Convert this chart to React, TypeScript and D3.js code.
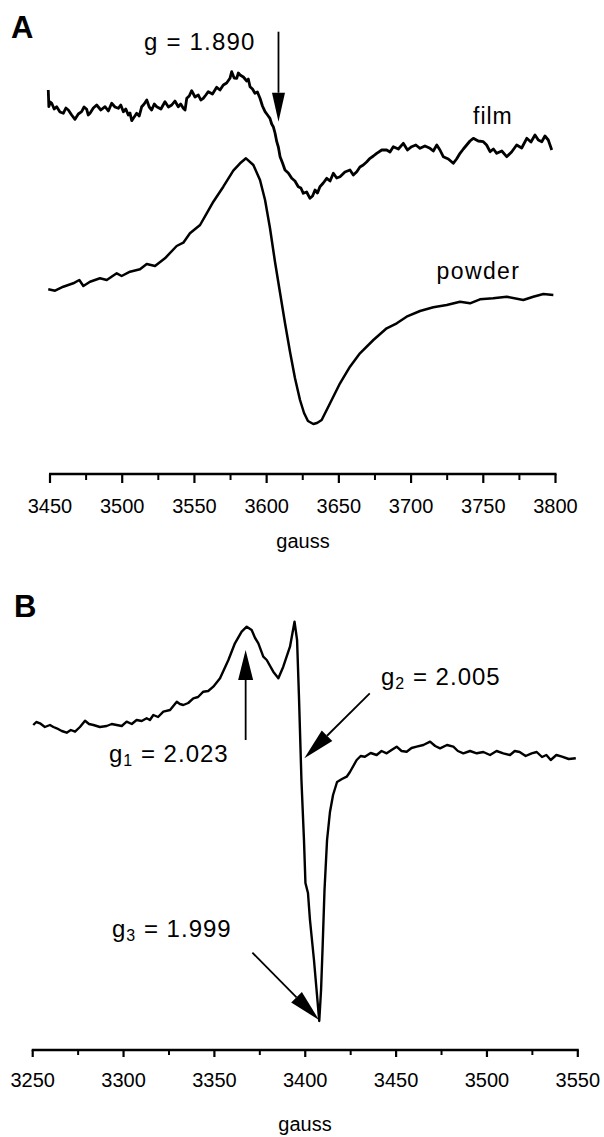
import React from "react";
import * as d3 from "d3";

// ---------- Panel A data (gauss, arbitrary signal units) ----------
const filmGauss = [3448.8, 3449.2, 3450.2, 3451.2, 3452.9, 3454.6, 3456.9, 3459.2, 3461.0, 3462.7, 3465.0, 3467.3, 3469.6, 3471.9, 3473.6, 3475.4, 3476.5, 3477.7, 3480.0, 3482.3, 3485.2, 3488.1, 3490.4, 3492.7, 3495.0, 3497.3, 3499.0, 3500.8, 3502.5, 3504.2, 3505.4, 3506.6, 3508.3, 3510.0, 3511.8, 3513.5, 3515.2, 3517.0, 3518.7, 3520.4, 3522.2, 3523.9, 3526.8, 3529.6, 3532.0, 3534.3, 3536.5, 3538.8, 3540.5, 3542.3, 3543.5, 3544.7, 3546.4, 3548.1, 3550.4, 3552.7, 3554.4, 3556.1, 3557.9, 3559.6, 3562.5, 3565.4, 3567.7, 3570.0, 3572.3, 3574.6, 3575.8, 3577.5, 3579.3, 3580.4, 3581.6, 3583.9, 3586.2, 3587.3, 3588.5, 3590.2, 3591.9, 3593.6, 3595.4, 3597.1, 3598.9, 3600.6, 3602.3, 3603.5, 3604.6, 3605.8, 3607.0, 3608.1, 3609.3, 3611.0, 3612.7, 3615.0, 3617.4, 3619.6, 3621.9, 3623.7, 3625.4, 3627.7, 3630.0, 3631.8, 3633.5, 3635.2, 3636.9, 3639.2, 3641.6, 3643.9, 3646.2, 3648.5, 3650.8, 3654.2, 3657.7, 3660.0, 3662.4, 3664.6, 3666.9, 3669.2, 3671.6, 3673.9, 3676.2, 3679.7, 3683.1, 3685.4, 3687.7, 3691.2, 3694.6, 3697.5, 3700.4, 3703.3, 3706.2, 3709.6, 3713.1, 3715.4, 3717.8, 3720.0, 3722.3, 3725.8, 3729.2, 3731.5, 3733.9, 3736.2, 3738.5, 3740.8, 3743.1, 3746.5, 3750.0, 3752.3, 3754.7, 3757.0, 3759.3, 3762.8, 3766.2, 3769.6, 3773.1, 3776.6, 3780.1, 3783.0, 3785.8, 3788.1, 3790.5, 3792.7, 3795.0, 3796.2, 3797.4];
const filmSignal = [210, 193.3, 198, 196.7, 191, 193.3, 188, 186.7, 192, 190, 185, 180.7, 186, 188.3, 193, 190.7, 185, 186.7, 192, 195, 190, 193.3, 189, 196.7, 193, 191.7, 195, 188.3, 191, 185, 187, 179.3, 183, 186.7, 184, 193.3, 196, 200, 193, 190, 196, 193.3, 191, 198.3, 193, 195, 199, 193.3, 196, 191.7, 190, 201.7, 204, 209.3, 203, 205, 200, 201.7, 205, 208.3, 206, 212.7, 210, 215, 217, 221.7, 228.3, 222, 221.7, 227, 225, 223, 219, 221, 213.3, 211, 206.7, 208, 201.7, 194, 188.3, 185, 181.7, 176, 173.3, 167, 158.3, 153, 143.3, 137, 130, 127, 121.7, 119, 113.3, 112, 106.7, 108, 101.7, 104, 110, 107, 113.3, 117, 121.7, 119, 126.7, 122, 123.3, 128, 130, 125, 128.3, 133, 135, 138, 141.7, 144, 146.7, 150, 150, 148, 153.3, 151, 156.7, 150, 153.3, 155, 151.7, 154, 151.7, 149, 155, 150, 143.3, 141, 136.7, 141, 146.7, 151, 155, 159, 161.7, 159, 158.3, 155, 148.3, 151, 146.7, 149, 143.3, 148, 155, 152, 161.7, 158, 165, 160, 158.3, 164, 160, 155, 150];

const powderGauss = [3448.8, 3453.5, 3459.2, 3466.1, 3470.3, 3473.1, 3477.7, 3484.6, 3489.3, 3496.2, 3499.6, 3505.4, 3512.3, 3517.0, 3522.7, 3529.6, 3537.7, 3542.3, 3546.9, 3553.9, 3558.5, 3563.1, 3570.0, 3576.9, 3581.6, 3585.7, 3590.8, 3595.4, 3598.9, 3602.3, 3605.8, 3609.3, 3612.7, 3616.2, 3619.6, 3623.1, 3625.9, 3628.6, 3632.3, 3634.9, 3638.1, 3643.9, 3650.8, 3657.7, 3664.6, 3673.9, 3683.1, 3690.1, 3696.9, 3706.2, 3715.4, 3724.7, 3733.9, 3740.8, 3747.7, 3756.9, 3766.2, 3777.7, 3784.6, 3791.6, 3798.5];
const powderSignal = [10.7, 9.3, 13.3, 16.7, 20, 14, 18.3, 21.7, 20, 26.7, 24, 28.3, 30.7, 36, 34, 41.7, 54, 57.3, 66.7, 75, 86.7, 98.3, 113.3, 129.3, 136.7, 141.7, 135, 120, 100, 72, 38, 7, -23, -52, -78, -100, -113, -121, -124, -123, -120, -103.3, -83.3, -66.7, -53.3, -40, -28.3, -23.3, -16.7, -11, -7.3, -5, -1.7, -3.3, 0.7, 1.7, 3.3, 0, 3.3, 6, 5];

const ticksA = [3450, 3500, 3550, 3600, 3650, 3700, 3750, 3800];
const minorTicksA = [3475, 3525, 3575, 3625, 3675, 3725, 3775];

// ---------- Panel B data ----------
const bGauss = [3250.3, 3252.0, 3254.0, 3256.7, 3259.5, 3261.4, 3263.2, 3266.0, 3268.7, 3271.0, 3273.3, 3276.0, 3278.8, 3281.0, 3283.4, 3287.0, 3290.7, 3293.5, 3296.2, 3299.0, 3301.7, 3304.5, 3307.2, 3310.0, 3312.7, 3314.5, 3316.4, 3319.0, 3321.9, 3325.6, 3329.3, 3331.0, 3332.9, 3335.6, 3338.4, 3341.0, 3343.9, 3346.6, 3349.4, 3353.1, 3357.7, 3361.3, 3365.0, 3367.8, 3370.5, 3372.4, 3374.2, 3376.9, 3378.8, 3382.4, 3385.2, 3387.9, 3391.6, 3394.1, 3395.5, 3396.6, 3397.9, 3399.3, 3400.1, 3401.5, 3402.6, 3404.8, 3407.7, 3408.7, 3409.5, 3410.6, 3412.0, 3413.6, 3415.3, 3417.5, 3420.2, 3422.8, 3424.6, 3428.3, 3430.5, 3432.8, 3436.0, 3439.3, 3442.0, 3444.8, 3447.5, 3450.3, 3453.0, 3455.8, 3458.5, 3461.3, 3465.0, 3468.7, 3471.5, 3474.2, 3478.0, 3481.5, 3484.0, 3487.0, 3490.7, 3494.4, 3498.0, 3501.7, 3505.3, 3509.0, 3512.7, 3515.3, 3518.0, 3521.3, 3524.6, 3527.4, 3530.3, 3532.7, 3535.1, 3538.2, 3541.3, 3545.0, 3548.9];
const bSignal = [35, 38, 36.7, 33, 35, 33, 31.7, 29, 27.3, 30, 28.3, 33, 39.3, 36, 35, 33, 34, 36, 35, 34, 38.3, 36, 40, 39, 41.7, 40, 45, 43, 48.3, 50, 58.3, 56, 55, 57, 61.7, 63, 68.3, 69, 73.3, 81.7, 100, 116.7, 128.3, 133.3, 130, 122, 116.7, 103.3, 100, 88.3, 81.7, 93.3, 113.3, 138.3, 120, 60, -20, -80, -123, -133, -160, -200, -261, -230, -190, -130, -80, -52, -35, -22, -19, -16.7, -12, 0, 4, 3.3, 7, 5, 9, 6.7, 10, 13.3, 9, 8.3, 12, 13.3, 15, 18.3, 14, 11.7, 15, 13.3, 9, 6.7, 9, 6.7, 8, 5, 9, 6.7, 5, 9, 8, 4, 6.7, 8, 3, 5, 0, 5, 3.3, 1, 1.7];

const ticksB = [3250, 3300, 3350, 3400, 3450, 3500, 3550];
const minorTicksB = [3275, 3325, 3375, 3425, 3475, 3525];

// annotations: [gaussFrom, signalFrom, gaussTo, signalTo]
const arrowA = [3608.2, 268.3, 3608.2, 178.3];
const arrowG1 = [3367.2, 20, 3367.2, 110];
const arrowG2 = [3435.5, 66.7, 3399.5, 1.7];
const arrowG3 = [3370.9, -192.7, 3407.6, -260];

const FONT = "'Liberation Sans', Arial, Helvetica, sans-serif";

function Arrow({ x1, y1, x2, y2, head = 28, width = 14 }: any) {
  const dx = x2 - x1, dy = y2 - y1;
  const len = Math.sqrt(dx * dx + dy * dy);
  const ux = dx / len, uy = dy / len;
  const bx = x2 - ux * head, by = y2 - uy * head;
  const px = -uy * width / 2, py = ux * width / 2;
  return (
    <g>
      <line x1={x1} y1={y1} x2={bx} y2={by} stroke="#000" strokeWidth={1.8} />
      <polygon points={`${x2},${y2} ${bx + px},${by + py} ${bx - px},${by - py}`} fill="#000" />
    </g>
  );
}

export default function App() {
  const xA = d3.scaleLinear().domain([3450, 3800]).range([50, 555.5]);
  const yA = d3.scaleLinear().domain([-130, 270]).range([430, 30]);
  const xB = d3.scaleLinear().domain([3250, 3550]).range([32.7, 577.8]);
  const yB = d3.scaleLinear().domain([-270, 140]).range([1030, 620]);

  const lineA = d3.line<[number, number]>().x(d => xA(d[0])).y(d => yA(d[1]));
  const lineB = d3.line<[number, number]>().x(d => xB(d[0])).y(d => yB(d[1]));

  const film = lineA(filmGauss.map((g, i) => [g, filmSignal[i]]) as any);
  const powder = lineA(powderGauss.map((g, i) => [g, powderSignal[i]]) as any);
  const bPath = lineB(bGauss.map((g, i) => [g, bSignal[i]]) as any);

  const axisAY = 474;
  const axisBY = 1050;

  return (
    <>
      <style>{`body{margin:0}`}</style>
      <svg width={604} height={1137} style={{ display: "block", background: "#fff" }} fontFamily={FONT}>
        <rect width={604} height={1137} fill="#fff" />
        {/* Panel A */}
        <text x={11} y={38} fontSize={31} fontWeight="bold">A</text>
        <path d={film || ""} fill="none" stroke="#000" strokeWidth={2.8} strokeLinejoin="round" />
        <path d={powder || ""} fill="none" stroke="#000" strokeWidth={2.5} strokeLinejoin="round" />
        <text x={144} y={49.5} fontSize={24} letterSpacing={1.2}>g = 1.890</text>
        <Arrow x1={xA(arrowA[0])} y1={yA(arrowA[1])} x2={xA(arrowA[2])} y2={yA(arrowA[3])} head={29} width={13} />
        <text x={473} y={123.5} fontSize={23} letterSpacing={1}>film</text>
        <text x={436.5} y={278.5} fontSize={23} letterSpacing={1.4}>powder</text>
        {/* axis A */}
        <line x1={xA(3450) - 1} x2={xA(3800) + 1} y1={axisAY} y2={axisAY} stroke="#000" strokeWidth={2.6} />
        {ticksA.map(t => (
          <g key={t}>
            <line x1={xA(t)} x2={xA(t)} y1={axisAY} y2={axisAY + 9} stroke="#000" strokeWidth={2.2} />
            <text x={xA(t)} y={512.5} fontSize={20} textAnchor="middle">{t}</text>
          </g>
        ))}
        {minorTicksA.map(t => (
          <line key={t} x1={xA(t)} x2={xA(t)} y1={axisAY} y2={axisAY + 6} stroke="#000" strokeWidth={2} />
        ))}
        <text x={303} y={548} fontSize={20} textAnchor="middle">gauss</text>

        {/* Panel B */}
        <text x={14} y={617} fontSize={31} fontWeight="bold">B</text>
        <path d={bPath || ""} fill="none" stroke="#000" strokeWidth={2.4} strokeLinejoin="round" />
        <Arrow x1={xB(arrowG1[0])} y1={yB(arrowG1[1])} x2={xB(arrowG1[2])} y2={yB(arrowG1[3])} head={30} width={15} />
        <Arrow x1={xB(arrowG2[0])} y1={yB(arrowG2[1])} x2={xB(arrowG2[2])} y2={yB(arrowG2[3])} head={32} width={15} />
        <Arrow x1={xB(arrowG3[0])} y1={yB(arrowG3[1])} x2={xB(arrowG3[2])} y2={yB(arrowG3[3])} head={32} width={15} />
        <text x={109} y={762} fontSize={24} letterSpacing={1}>g<tspan fontSize={16} dy={4}>1</tspan><tspan dy={-4}> = 2.023</tspan></text>
        <text x={381} y={685} fontSize={24} letterSpacing={1}>g<tspan fontSize={16} dy={4}>2</tspan><tspan dy={-4}> = 2.005</tspan></text>
        <text x={112} y={937} fontSize={24} letterSpacing={1}>g<tspan fontSize={16} dy={4}>3</tspan><tspan dy={-4}> = 1.999</tspan></text>
        {/* axis B */}
        <line x1={xB(3250) - 1} x2={xB(3550) + 1} y1={axisBY} y2={axisBY} stroke="#000" strokeWidth={2.6} />
        {ticksB.map(t => (
          <g key={t}>
            <line x1={xB(t)} x2={xB(t)} y1={axisBY} y2={axisBY + 7} stroke="#000" strokeWidth={2.2} />
            <text x={xB(t)} y={1087} fontSize={20} textAnchor="middle">{t}</text>
          </g>
        ))}
        {minorTicksB.map(t => (
          <line key={t} x1={xB(t)} x2={xB(t)} y1={axisBY} y2={axisBY + 5} stroke="#000" strokeWidth={2} />
        ))}
        <text x={305} y={1131} fontSize={20} textAnchor="middle">gauss</text>
      </svg>
    </>
  );
}
